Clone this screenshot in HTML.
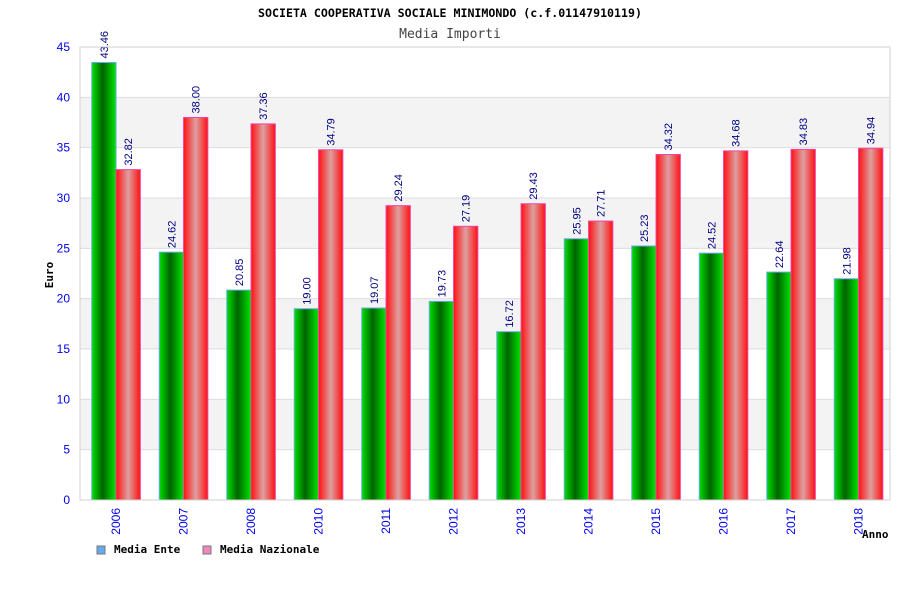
<!DOCTYPE html>
<html><head><meta charset="utf-8"><style>
body{margin:0;background:#fff}
svg{display:block;font-family:"DejaVu Sans Mono","Liberation Mono",monospace}
</style></head><body>
<svg id="c" width="900" height="600" xmlns="http://www.w3.org/2000/svg">
<defs>
<linearGradient id="gg" x1="0" x2="1" y1="0" y2="0"><stop offset="0" stop-color="#00e000"/><stop offset="0.45" stop-color="#006400"/><stop offset="1" stop-color="#00e600"/></linearGradient>
<linearGradient id="gr" x1="0" x2="1" y1="0" y2="0"><stop offset="0" stop-color="#ff1010"/><stop offset="0.5" stop-color="#dda0a0"/><stop offset="1" stop-color="#ff1010"/></linearGradient>
</defs>
<text x="450" y="17" text-anchor="middle" font-size="11.6" font-weight="bold" fill="#000">SOCIETA COOPERATIVA SOCIALE MINIMONDO (c.f.01147910119)</text>
<text x="450" y="38" text-anchor="middle" font-size="13" fill="#444">Media Importi</text>
<g id="bands"></g><g id="grid"></g><g id="bars"></g><g id="labels"></g><g id="axes"></g>
<text transform="translate(53,275) rotate(-90)" text-anchor="middle" font-size="11" font-weight="bold" fill="#000">Euro</text>
<text x="862" y="538" font-size="11" font-weight="bold" fill="#000">Anno</text>
<g>
<rect x="97" y="546" width="8" height="8" fill="#66aaee" stroke="#777"/>
<text x="114" y="553" font-size="11" font-weight="bold">Media Ente</text>
<rect x="203" y="546" width="8" height="8" fill="#ee88bb" stroke="#777"/>
<text x="220" y="553" font-size="11" font-weight="bold">Media Nazionale</text>
</g>
</svg>
<script>
const categories=["2006","2007","2008","2010","2011","2012","2013","2014","2015","2016","2017","2018"];
const enteValues=[43.46,24.62,20.85,19.00,19.07,19.73,16.72,25.95,25.23,24.52,22.64,21.98];
const nazionaleValues=[32.82,38.00,37.36,34.79,29.24,27.19,29.43,27.71,34.32,34.68,34.83,34.94];
const yTicks=[0,5,10,15,20,25,30,35,40,45];
const L=80,R=890,T=47,B=500,yMax=45;
const NS="http://www.w3.org/2000/svg";
const y=v=>B-(v/yMax)*(B-T);
const cw=(R-L)/categories.length;
const x=i=>L+i*cw;
function mk(tag,attrs,parent,txt){const e=document.createElementNS(NS,tag);for(const k in attrs)e.setAttribute(k,attrs[k]);if(txt!==undefined)e.textContent=txt;document.getElementById(parent).appendChild(e);return e;}
for(let i=0;i<yTicks.length-1;i++){
  if(i%2===1){const r=mk('rect',{x:L,y:y(yTicks[i+1]),width:R-L,height:y(yTicks[i])-y(yTicks[i+1]),fill:'#f3f3f3'},'bands');
  
  }
}
yTicks.forEach(t=>{
  const l=mk('line',{x1:L,x2:R,y1:y(t),y2:y(t),stroke:'#dddddd'},'grid');
  
  
  const tx=mk('text',{x:70,y:y(t)+4,'text-anchor':'end','font-size':12,fill:'#0000ee','font-family':'Liberation Sans, sans-serif'},'axes',String(t));
  
  
});
mk('rect',{x:L,y:T,width:R-L,height:B-T,fill:'none',stroke:'#d0d0d0'},'axes');
const bw=24.3, off=2.3;
categories.forEach((c,i)=>{
  const cx=x(i)+cw/2+off;
  const g=mk('rect',{x:cx-bw,y:y(enteValues[i]),width:bw,height:B-y(enteValues[i]),fill:'url(#gg)',stroke:'#66aaee','stroke-width':1},'bars');
  
  
  const r=mk('rect',{x:cx,y:y(nazionaleValues[i]),width:bw,height:B-y(nazionaleValues[i]),fill:'url(#gr)',stroke:'#ee44aa','stroke-width':1},'bars');
  
  
  [[enteValues[i],cx-bw/2,'ente'],[nazionaleValues[i],cx+bw/2,'nazionale']].forEach(([v,px,n])=>{
    const t=mk('text',{transform:`translate(${px+4},${y(v)-4}) rotate(-90)`,'font-size':11,fill:'#000080','font-family':'Liberation Sans, sans-serif'},'labels',v.toFixed(2));
    
    
  });
  const xl=mk('text',{transform:`translate(${cx+4},508) rotate(-90)`,'text-anchor':'end','font-size':12,fill:'#0000ee','font-family':'Liberation Sans, sans-serif'},'axes',c);
  
  
});
</script>
</body></html>
